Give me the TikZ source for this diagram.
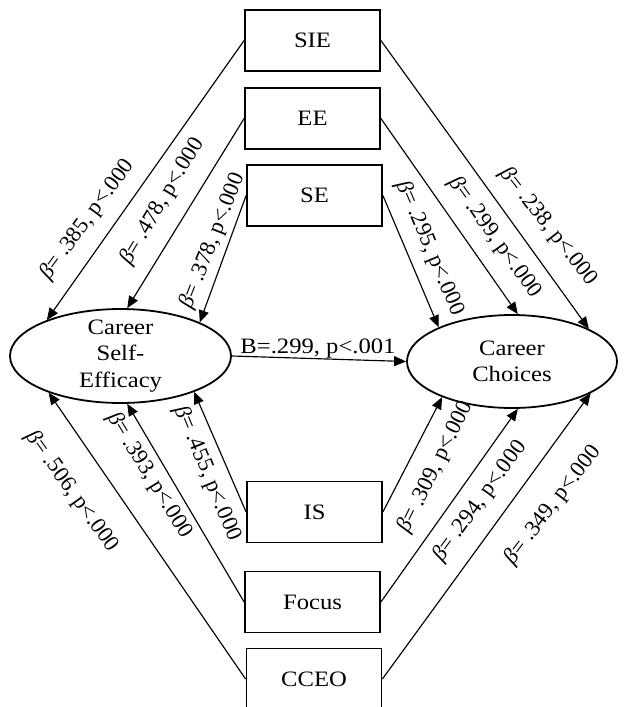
\documentclass[tikz,border=0pt]{standalone}
\usepackage{fontspec}
\setmainfont{Liberation Serif}
\newfontfamily\widefont{Liberation Serif}[FakeStretch=1.12]
\usetikzlibrary{arrows.meta,shapes.geometric}

\newcommand\betasym{{\itshape β}}

\begin{document}
\begin{tikzpicture}[x=1pt,y=-1pt,
  varbox/.style={draw, line width=1.8pt, minimum width=135pt, minimum height=61pt,
    inner sep=0pt, font=\widefont\fontsize{22}{26}\selectfont},
  latent/.style={draw, ellipse, line width=1.8pt, inner sep=-8pt, align=center,
    font=\widefont\fontsize{22}{26.5}\selectfont},
  effect/.style={line width=1.15pt, -{Triangle[length=12pt,width=10pt]}},
  coef/.style={inner sep=0pt, font=\fontsize{22.5}{26}\selectfont}
]
\useasboundingbox (0,0) rectangle (626,707);

% observed predictors
\node[varbox] (sie)   at (312.5,40.5) {SIE};
\node[varbox] (ee)    at (312.5,118.5) {EE};
\node[varbox] (se)    at (314.5,195.5) {SE};
\node[varbox] (is)    at (314.5,512) {IS};
\node[varbox] (focus) at (312.5,602) {Focus};
\node[varbox] (cceo)  at (314,679) {CCEO};

% latent constructs
\node[latent, minimum width=221pt, minimum height=94pt] (cse) at (120.5,356) {Career\\Self-\\Efficacy};
\node[latent, minimum width=210pt, minimum height=93pt] (cc)  at (512,361.5) {Career\\Choices};

% paths to career self-efficacy
\draw[effect] (sie.west)   -- (cse.154);
\draw[effect] (ee.west)    -- (cse.82);
\draw[effect] (se.west)    -- (cse.23);
\draw[effect] (is.west)    -- (cse.-26);
\draw[effect] (focus.west) -- (cse.-82);
\draw[effect] (cceo.west)  -- (cse.-153);

% paths to career choices
\draw[effect] (sie.east)   -- (cc.23);
\draw[effect] (ee.east)    -- (cc.83);
\draw[effect] (se.east)    -- (cc.155);
\draw[effect] (is.east)    -- (cc.-153);
\draw[effect] (focus.east) -- (cc.-83);
\draw[effect] (cceo.east)  -- (cc.-22);

% mediation path
\draw[effect] (cse.east) -- (cc.west);
\node[inner sep=0pt, font=\widefont\fontsize{22}{26}\selectfont] (bpath) at (318,349) {B=.299, p<.001};

% path coefficients
\node[coef, rotate=53.5]  (c1)  at (87.5,219.5)  {\betasym= .385, p<.000};
\node[coef, rotate=59]    (c2)  at (162.5,201.5) {\betasym= .478, p<.000};
\node[coef, rotate=68.5]  (c3)  at (212.5,241)   {\betasym= .378, p<.000};
\node[coef, rotate=-52]   (c4)  at (548.5,226.5) {\betasym= .238, p<.000};
\node[coef, rotate=-54.5] (c5)  at (495,237.5)   {\betasym= .299, p<.000};
\node[coef, rotate=-67]   (c6)  at (430,248.5)   {\betasym= .295, p<.000};
\node[coef, rotate=-54.5] (c7)  at (72,491.5)    {\betasym= .506, p<.000};
\node[coef, rotate=-58.5] (c8)  at (149.5,475.5) {\betasym= .393, p<.000};
\node[coef, rotate=-67.5] (c9)  at (207.5,473.5) {\betasym= .455, p<.000};
\node[coef, rotate=63.5]  (c10) at (436,467)     {\betasym= .309, p<.000};
\node[coef, rotate=54]    (c11) at (480,501.5)   {\betasym= .294, p<.000};
\node[coef, rotate=52.5]  (c12) at (553,505)     {\betasym= .349, p<.000};
\end{tikzpicture}
\end{document}
